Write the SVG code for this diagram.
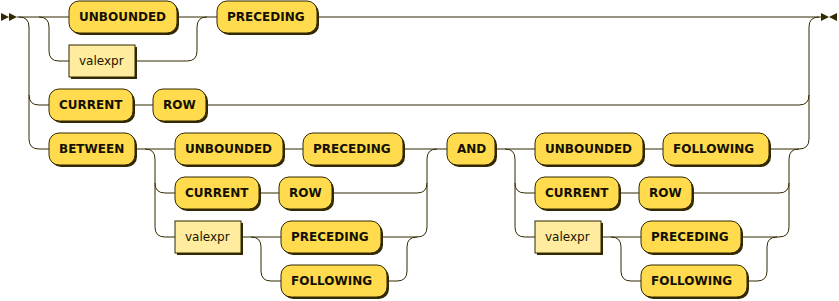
<svg xmlns="http://www.w3.org/2000/svg" width="839" height="301" viewBox="0 0 839 301">
<style>
.line{fill:none;stroke:#332900;stroke-width:1}
.mk{fill:#332900;stroke:none}
.sh{fill:#332900;stroke:none}
rect.t{fill:#FFDB4D;stroke:#332900;stroke-width:1}
rect.n{fill:#FFEC9E;stroke:#332900;stroke-width:1}
text.t{font-family:"DejaVu Sans","Liberation Sans",sans-serif;font-size:12px;font-weight:bold;fill:#141000}
text.n{font-family:"DejaVu Sans","Liberation Sans",sans-serif;font-size:12px;font-weight:normal;fill:#1A1400}
</style>
<g id="connectors">
<polygon class="mk" points="9 17 1 13 1 21"/>
<polygon class="mk" points="17 17 9 13 9 21"/>
<path class="line" d="M17 17 H69 M177 17 H217 M317 17 H826
M19 17 q10 0 10 10 V95 q0 10 10 10 H49 M133 105 H153 M206 105 H799 q10 0 10 -10 V27 q0 -10 10 -10
M29 95 V139 q0 10 10 10 H49
M39 17 q10 0 10 10 V51 q0 10 10 10 H69 M135 61 H187 q10 0 10 -10 V27 q0 -10 10 -10
M135 149 H175 M283 149 H303 M403 149 H447
M145 149 q10 0 10 10 V183 q0 10 10 10 H175 M259 193 H279 M332 193 H417 q10 0 10 -10 V159 q0 -10 10 -10
M155 183 V227 q0 10 10 10 H175 M241 237 H281 M381 237 H417 q10 0 10 -10 V183
M251 237 q10 0 10 10 V271 q0 10 10 10 H281 M387 281 H397 q10 0 10 -10 V247 q0 -10 10 -10
M495 149 H535 M643 149 H663 M769 149 H799 q10 0 10 -10 V95
M505 149 q10 0 10 10 V183 q0 10 10 10 H535 M619 193 H639 M692 193 H779 q10 0 10 -10 V159 q0 -10 10 -10
M515 183 V227 q0 10 10 10 H535 M601 237 H641 M741 237 H779 q10 0 10 -10 V183
M611 237 q10 0 10 10 V271 q0 10 10 10 H641 M747 281 H757 q10 0 10 -10 V247 q0 -10 10 -10"/>
<polygon class="mk" points="829 17 821 13 821 21"/>
<polygon class="mk" points="829 17 837 13 837 21"/>
</g>
<g id="unbounded1"><rect class="sh" x="71" y="3" width="108" height="32" rx="10"/><rect class="t" x="69" y="1" width="108" height="32" rx="10"/><text class="t" x="79" y="21">UNBOUNDED</text></g>
<g id="valexpr1"><rect class="sh" x="71" y="47" width="66" height="32"/><rect class="n" x="69" y="45" width="66" height="32"/><text class="n" x="79" y="65">valexpr</text></g>
<g id="preceding1"><rect class="sh" x="219" y="3" width="100" height="32" rx="10"/><rect class="t" x="217" y="1" width="100" height="32" rx="10"/><text class="t" x="227" y="21">PRECEDING</text></g>
<g id="current1"><rect class="sh" x="51" y="91" width="84" height="32" rx="10"/><rect class="t" x="49" y="89" width="84" height="32" rx="10"/><text class="t" x="59" y="109">CURRENT</text></g>
<g id="row1"><rect class="sh" x="155" y="91" width="53" height="32" rx="10"/><rect class="t" x="153" y="89" width="53" height="32" rx="10"/><text class="t" x="163" y="109">ROW</text></g>
<g id="between"><rect class="sh" x="51" y="135" width="86" height="32" rx="10"/><rect class="t" x="49" y="133" width="86" height="32" rx="10"/><text class="t" x="59" y="153">BETWEEN</text></g>
<g id="unbounded2"><rect class="sh" x="177" y="135" width="108" height="32" rx="10"/><rect class="t" x="175" y="133" width="108" height="32" rx="10"/><text class="t" x="185" y="153">UNBOUNDED</text></g>
<g id="preceding2"><rect class="sh" x="305" y="135" width="100" height="32" rx="10"/><rect class="t" x="303" y="133" width="100" height="32" rx="10"/><text class="t" x="313" y="153">PRECEDING</text></g>
<g id="current2"><rect class="sh" x="177" y="179" width="84" height="32" rx="10"/><rect class="t" x="175" y="177" width="84" height="32" rx="10"/><text class="t" x="185" y="197">CURRENT</text></g>
<g id="row2"><rect class="sh" x="281" y="179" width="53" height="32" rx="10"/><rect class="t" x="279" y="177" width="53" height="32" rx="10"/><text class="t" x="289" y="197">ROW</text></g>
<g id="valexpr2"><rect class="sh" x="177" y="223" width="66" height="32"/><rect class="n" x="175" y="221" width="66" height="32"/><text class="n" x="185" y="241">valexpr</text></g>
<g id="preceding3"><rect class="sh" x="283" y="223" width="100" height="32" rx="10"/><rect class="t" x="281" y="221" width="100" height="32" rx="10"/><text class="t" x="291" y="241">PRECEDING</text></g>
<g id="following1"><rect class="sh" x="283" y="267" width="106" height="32" rx="10"/><rect class="t" x="281" y="265" width="106" height="32" rx="10"/><text class="t" x="291" y="285">FOLLOWING</text></g>
<g id="and"><rect class="sh" x="449" y="135" width="48" height="32" rx="10"/><rect class="t" x="447" y="133" width="48" height="32" rx="10"/><text class="t" x="457" y="153">AND</text></g>
<g id="unbounded3"><rect class="sh" x="537" y="135" width="108" height="32" rx="10"/><rect class="t" x="535" y="133" width="108" height="32" rx="10"/><text class="t" x="545" y="153">UNBOUNDED</text></g>
<g id="following2"><rect class="sh" x="665" y="135" width="106" height="32" rx="10"/><rect class="t" x="663" y="133" width="106" height="32" rx="10"/><text class="t" x="673" y="153">FOLLOWING</text></g>
<g id="current3"><rect class="sh" x="537" y="179" width="84" height="32" rx="10"/><rect class="t" x="535" y="177" width="84" height="32" rx="10"/><text class="t" x="545" y="197">CURRENT</text></g>
<g id="row3"><rect class="sh" x="641" y="179" width="53" height="32" rx="10"/><rect class="t" x="639" y="177" width="53" height="32" rx="10"/><text class="t" x="649" y="197">ROW</text></g>
<g id="valexpr3"><rect class="sh" x="537" y="223" width="66" height="32"/><rect class="n" x="535" y="221" width="66" height="32"/><text class="n" x="545" y="241">valexpr</text></g>
<g id="preceding4"><rect class="sh" x="643" y="223" width="100" height="32" rx="10"/><rect class="t" x="641" y="221" width="100" height="32" rx="10"/><text class="t" x="651" y="241">PRECEDING</text></g>
<g id="following3"><rect class="sh" x="643" y="267" width="106" height="32" rx="10"/><rect class="t" x="641" y="265" width="106" height="32" rx="10"/><text class="t" x="651" y="285">FOLLOWING</text></g>
</svg>
